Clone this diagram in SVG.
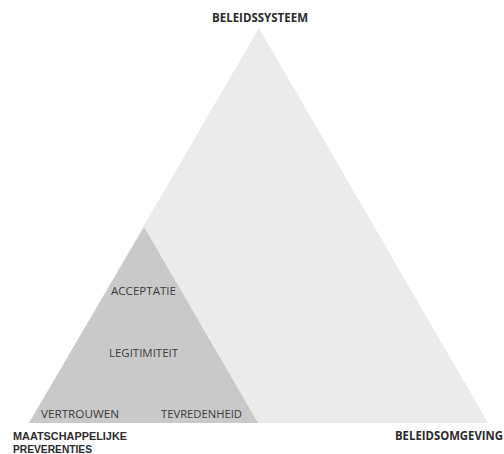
<svg xmlns="http://www.w3.org/2000/svg" width="504" height="454" viewBox="0 0 504 454">
<style>
.lbl{font-family:"Open Sans","Liberation Sans",sans-serif;font-weight:bold;font-size:11.5px;fill:#2b2b2b}
.lbl2{font-family:"Liberation Sans",Arial,sans-serif;font-weight:bold;font-size:10.5px;fill:#2b2b2b}
.in{font-family:"Open Sans","Liberation Sans",sans-serif;font-size:10.5px;fill:#3a3a3a}
</style>
<rect width="504" height="454" fill="#ffffff"/>
<g id="outer-triangle"><polygon points="259,28 29,423 488,423" fill="#ebebeb"/></g>
<g id="inner-triangle"><polygon points="144,227 29,423 258,423" fill="#c9c9c9"/></g>
<g id="connectors"></g>
<g id="beleidssysteem"><text class="lbl" x="212" y="22" textLength="96" lengthAdjust="spacingAndGlyphs">BELEIDSSYSTEEM</text></g>
<g id="maatschappelijke"><text class="lbl2" x="13" y="440" textLength="114" lengthAdjust="spacingAndGlyphs">MAATSCHAPPELIJKE</text><text class="lbl2" x="13" y="452.5" textLength="79" lengthAdjust="spacingAndGlyphs">PREVERENTIES</text></g>
<g id="beleidsomgeving"><text class="lbl" x="395" y="440" textLength="108" lengthAdjust="spacingAndGlyphs">BELEIDSOMGEVING</text></g>
<g id="acceptatie"><text class="in" x="111" y="295" textLength="65" lengthAdjust="spacingAndGlyphs">ACCEPTATIE</text></g>
<g id="legitimiteit"><text class="in" x="109" y="357" textLength="69" lengthAdjust="spacingAndGlyphs">LEGITIMITEIT</text></g>
<g id="vertrouwen"><text class="in" x="41" y="418" textLength="78" lengthAdjust="spacingAndGlyphs">VERTROUWEN</text></g>
<g id="tevredenheid"><text class="in" x="161" y="418" textLength="81" lengthAdjust="spacingAndGlyphs">TEVREDENHEID</text></g>
</svg>
